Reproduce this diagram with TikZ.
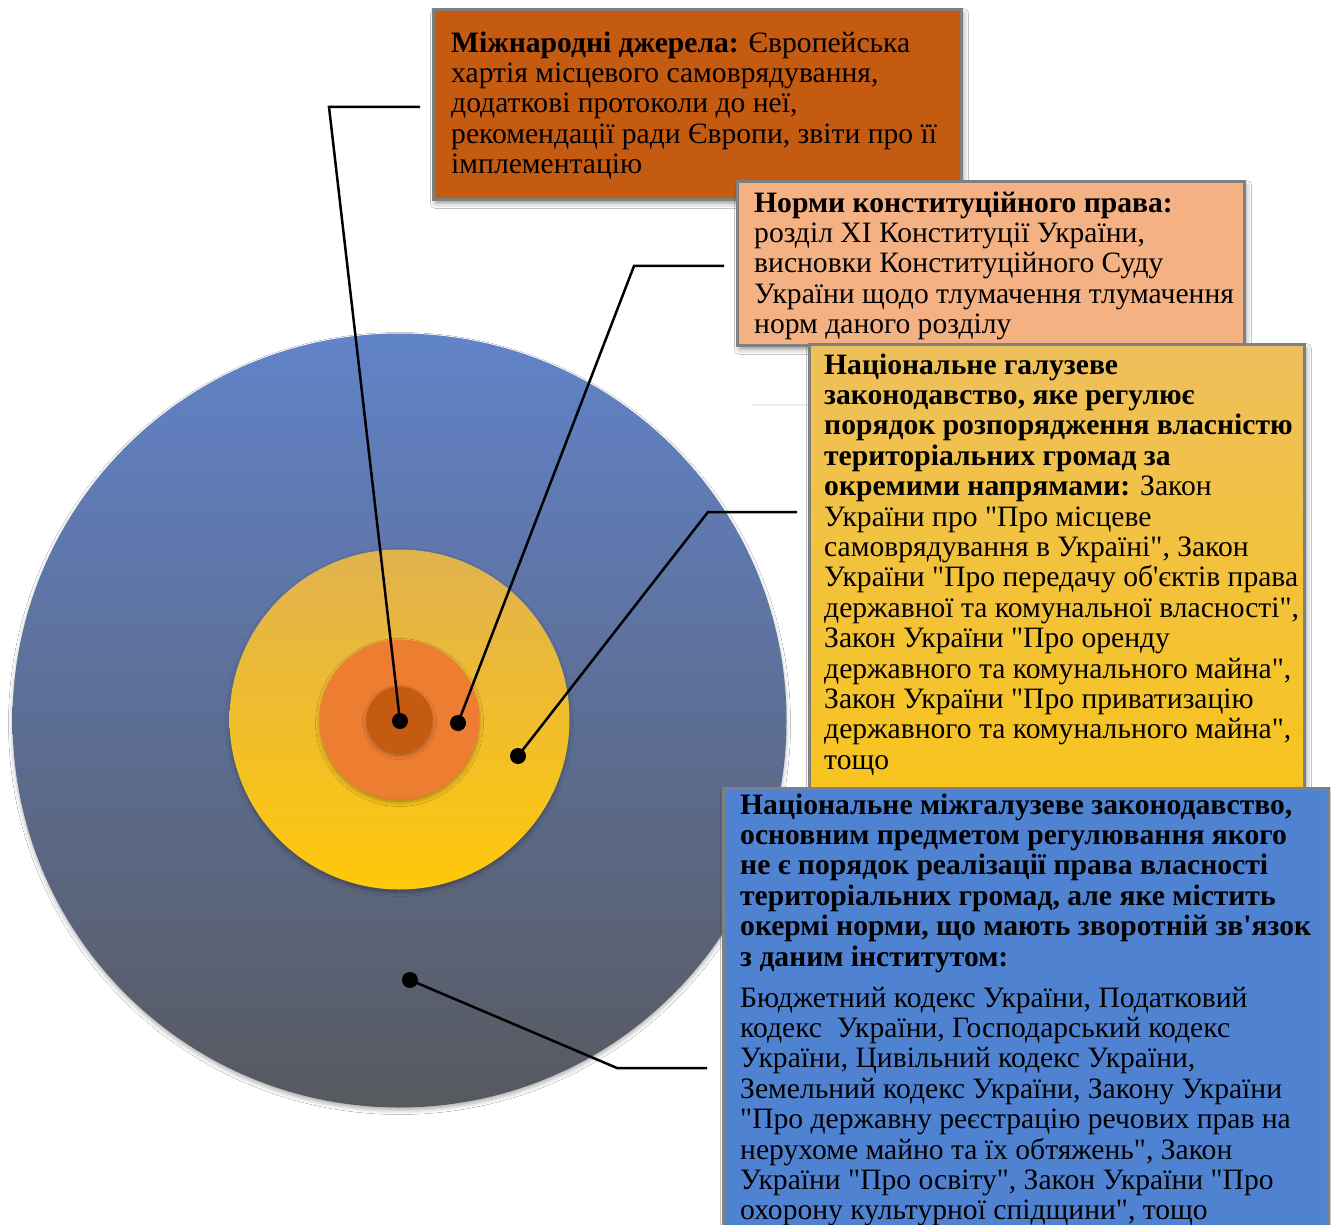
\documentclass[tikz,border=0pt]{standalone}
\usepackage{fontspec}
\newfontfamily\tnr{Liberation Serif}
\usetikzlibrary{shadows.blur}
\definecolor{bluetop}{HTML}{6183C9}
\definecolor{bluebot}{HTML}{58595F}
\definecolor{yeltop}{HTML}{E0B24F}
\definecolor{yelbot}{HTML}{FFC80A}
\definecolor{orangemid}{HTML}{ED7D31}
\definecolor{orangedark}{HTML}{C55A11}
\definecolor{peach}{HTML}{F4B183}
\definecolor{boxyeltop}{HTML}{EEC05C}
\definecolor{boxyelbot}{HTML}{F7C41E}
\definecolor{boxblue}{HTML}{4F83D2}
\definecolor{boxborder}{HTML}{808080}
\tikzset{
  boxshape/.style={draw=boxborder, line width=3pt, rectangle, inner sep=0pt, anchor=north west,
    blur shadow={shadow xshift=2pt, shadow yshift=-4pt, shadow blur radius=5pt, shadow opacity=40}},
  txt/.style={anchor=north west, inner sep=0pt, align=left, text=black,
    font=\tnr\fontsize{29.6}{30.4}\selectfont},
  dot/.style={circle, fill=black, inner sep=0pt, minimum size=16pt},
  conn/.style={draw=black, line width=2.5pt},
  ring/.style={blur shadow={shadow xshift=0pt, shadow yshift=-3pt, shadow blur radius=4pt, shadow opacity=30}}
}
\begin{document}
\begin{tikzpicture}[x=1pt,y=-1pt]
\useasboundingbox (0,0) rectangle (1331,1225);
\fill[white] (0,0) rectangle (1331,1225);
% concentric circles
\shade[ring, top color=bluetop, bottom color=bluebot] (399.5,720.5) circle (387pt);
\shade[ring, top color=yeltop, bottom color=yelbot] (399.5,719.5) circle (170pt);
\fill[ring, orangemid] (399.5,719.5) circle (80pt);
\fill[ring, orangedark] (399.5,719.5) circle (33pt);
% dots
\node[dot] (d1) at (400,721) {};
\node[dot] (d2) at (458,723) {};
\node[dot] (d3) at (518,756) {};
\node[dot] (d4) at (410,980) {};
% connector bends and ends
\coordinate (k1) at (329,107);  \coordinate (e1) at (420,107);
\coordinate (k2) at (634,266);  \coordinate (e2) at (724,266);
\coordinate (k3) at (708,512);  \coordinate (e3) at (797,512);
\coordinate (k4) at (617,1068); \coordinate (e4) at (707,1068);
\draw[conn] (d1.center) -- (k1) -- (e1);
\draw[conn] (d2.center) -- (k2) -- (e2);
\draw[conn] (d3.center) -- (k3) -- (e3);
\draw[conn] (d4.center) -- (k4) -- (e4);
% faint line
\draw[black!8, line width=1.5pt] (752,405) -- (808,405);
% boxes
\node[boxshape, fill=orangedark, minimum width=528pt, minimum height=190pt] (b1) at (432,8) {};
\node[txt] (t1) at (451,30.7) {\strut\textbf{Міжнародні джерела:} Європейська\\
хартія місцевого самоврядування,\\
додаткові протоколи до неї,\\
рекомендації ради Європи, звіти про її\\
імплементацію};
\node[boxshape, fill=peach, minimum width=507pt, minimum height=164pt] (b2) at (736,180) {};
\node[txt] (t2) at (754,190.7) {\strut\textbf{Норми конституційного права:}\\
розділ XI Конституції України,\\
висновки Конституційного Суду\\
України щодо тлумачення тлумачення\\
норм даного розділу};
\node[boxshape, top color=boxyeltop, bottom color=boxyelbot, minimum width=495pt, minimum height=446pt] (b3) at (808,343) {};
\node[txt] (t3) at (824,352.7) {\strut\textbf{Національне галузеве}\\
\textbf{законодавство, яке регулює}\\
\textbf{порядок розпорядження власністю}\\
\textbf{територіальних громад за}\\
\textbf{окремими напрямами:} Закон\\
України про "Про місцеве\\
самоврядування в Україні", Закон\\
України "Про передачу об'єктів права\\
державної та комунальної власності",\\
Закон України "Про оренду\\
державного та комунального майна",\\
Закон України "Про приватизацію\\
державного та комунального майна",\\
тощо};
\node[boxshape, fill=boxblue, minimum width=605pt, minimum height=460pt] (b4) at (722,787) {};
\node[txt] (t4) at (740,792.7) {\strut\textbf{Національне міжгалузеве законодавство,}\\
\textbf{основним предметом регулювання якого}\\
\textbf{не є порядок реалізації права власності}\\
\textbf{територіальних громад, але яке містить}\\
\textbf{окермі норми, що мають зворотній зв'язок}\\
\textbf{з даним інститутом:}\\[10.6pt]
Бюджетний кодекс України, Податковий\\
кодекс\ \ України, Господарський кодекс\\
України, Цивільний кодекс України,\\
Земельний кодекс України, Закону України\\
"Про державну реєстрацію речових прав на\\
нерухоме майно та їх обтяжень", Закон\\
України "Про освіту", Закон України "Про\\
охорону культурної спідщини", тощо};
\end{tikzpicture}
\end{document}
